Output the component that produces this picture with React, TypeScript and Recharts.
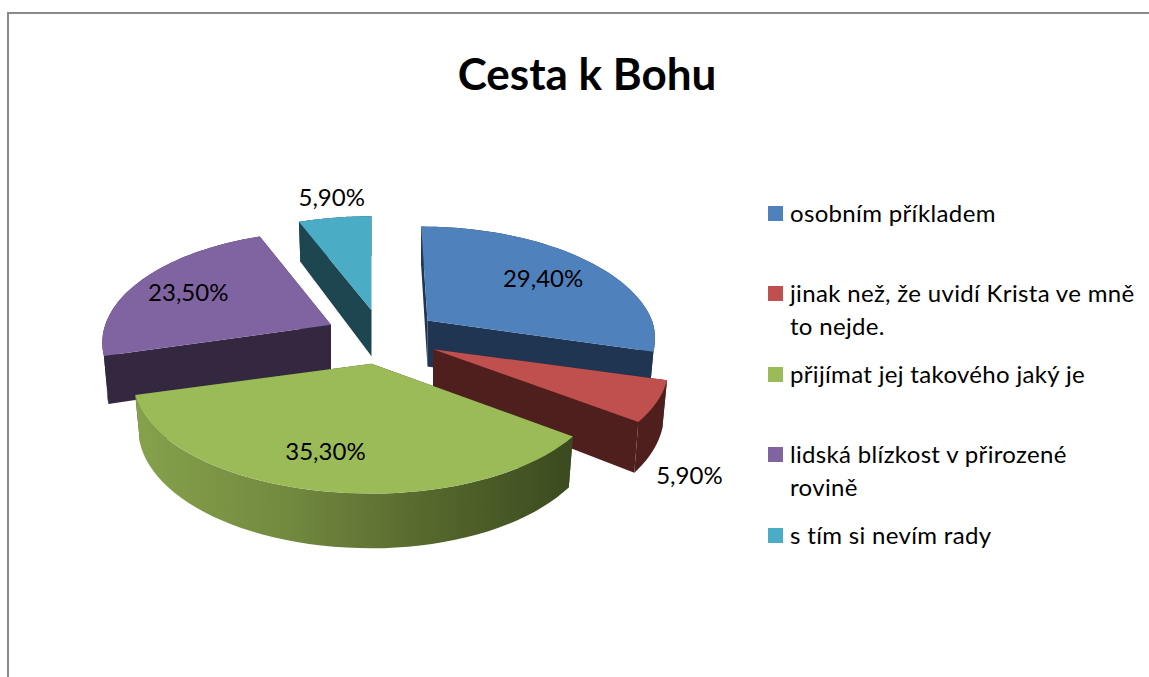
import React from "react";
import { PieChart, Pie, Legend } from "recharts";

const chartTitle = "Cesta k Bohu";
const categories = [
  "osobním příkladem",
  "jinak než, že uvidí Krista ve mně to nejde.",
  "přijímat jej takového jaký je",
  "lidská blízkost v přirozené rovině",
  "s tím si nevím rady",
];
const shares = [29.4, 5.9, 35.3, 23.5, 5.9];
const topColors = ["#4f81bd", "#c0504d", "#9bbb59", "#8064a2", "#4bacc6"];
const wallColors = ["#1f3552", "#4f1f1e", "#3c4a20", "#33283f", "#1e4651"];

const rows = categories.map((name, i) => ({ name, value: shares[i], fill: topColors[i] }));

// Projection constants of the 3D look
const CX = 382;
const CY = 337;
const RX = 228;
const RY = 109;
const PERSPECTIVE = 0.16;
const EXPLODE = 57;
const DEPTH = 46;
const TILT = 0.478;
const BOTTOM_SHRINK = 0.98;
const FRONT_SLICE = 2;
// per slice width correction: [left of apex, right of apex]
const rimScales = [[1, 0.985], [1, 1.02], [1.03, 1], [0.99, 1], [1.01, 1]];
const legendTops = [212, 292, 373, 453, 534];
const legendWrapAfterWords = [99, 7, 99, 4, 99];
const labelNudges = [[1, 0], [103, 90], [-12, 2], [-8, -1], [-13, -46]];
const FONT = "Lato, Carlito, Calibri, sans-serif";

const toPlan = (deg: number) => ((90 - deg) * Math.PI) / 180;

function apexOf(cx: number, cy: number, midDeg: number) {
  const t = toPlan(midDeg);
  return { x: cx + EXPLODE * Math.sin(t), y: cy - EXPLODE * TILT * Math.cos(t), dx: EXPLODE * Math.sin(t) };
}

function rimPoint(apex: { x: number; y: number; dx: number }, deg: number, r: number, index: number, bottom = false) {
  const t = toPlan(deg);
  const u = Math.sin(t);
  const v = Math.cos(t);
  const w = 1 / (1 + PERSPECTIVE * v * r);
  const scale = rimScales[index][u > 0 ? 1 : 0];
  const radial = r * RX * u * w * scale * (bottom ? BOTTOM_SHRINK : 1);
  return {
    x: apex.x + radial + Math.max(apex.dx, 0) * Math.min(w - 1, 0),
    y: apex.y - r * RY * v * w + (bottom ? DEPTH * w : 0),
  };
}

const path = (pts: { x: number; y: number }[]) =>
  "M" + pts.map((p) => `${p.x.toFixed(2)},${p.y.toFixed(2)}`).join("L") + "Z";

function Slice(props: any) {
  const { cx, cy, startAngle, endAngle, index, fill } = props;
  const mid = (startAngle + endAngle) / 2;
  const apex = apexOf(cx, cy, mid);
  const rim: { x: number; y: number }[] = [];
  const rimLow: { x: number; y: number }[] = [];
  const steps = 48;
  for (let s = 0; s <= steps; s++) {
    const a = startAngle + ((endAngle - startAngle) * s) / steps;
    rim.push(rimPoint(apex, a, 1, index));
    rimLow.push(rimPoint(apex, a, 1, index, true));
  }
  const apexLow = { x: apex.x, y: apex.y + DEPTH };
  const wall = wallColors[index];
  const isFront = index === FRONT_SLICE;
  return (
    <g>
      {isFront && (
        <defs>
          <linearGradient id="frontWall" x1="0" y1="0" x2="1" y2="0">
            <stop offset="0" stopColor="#86a24c" />
            <stop offset="0.35" stopColor="#72893f" />
            <stop offset="0.7" stopColor="#53652b" />
            <stop offset="1" stopColor="#3b4a1f" />
          </linearGradient>
        </defs>
      )}
      <path d={path([apex, rim[0], rimLow[0], apexLow])} fill={wall} />
      <path d={path([apex, rim[steps], rimLow[steps], apexLow])} fill={wall} />
      <path d={path([...rim, ...[...rimLow].reverse()])} fill={isFront ? "url(#frontWall)" : wall} />
      <path d={path([apex, ...rim])} fill={fill} />
    </g>
  );
}

const backShape = (p: any) => (p.index === FRONT_SLICE ? <g /> : <Slice {...p} />);
const frontShape = (p: any) => (p.index === FRONT_SLICE ? <Slice {...p} /> : <g />);

function sliceLabel(p: any) {
  const { cx, cy, startAngle, endAngle, index, value } = p;
  const mid = (startAngle + endAngle) / 2;
  const apex = apexOf(cx, cy, mid);
  const at = rimPoint(apex, mid, 0.7, index);
  const [nx, ny] = labelNudges[index];
  return (
    <text
      key={index}
      x={at.x + nx}
      y={at.y + ny}
      textAnchor="middle"
      dominantBaseline="central"
      fontFamily={FONT}
      fontSize={24}
      fill="#000"
    >
      {`${Number(value).toFixed(2).replace(".", ",")}%`}
    </text>
  );
}

function LegendBox({ payload }: any) {
  const entries = categories.map((name) => (payload || []).find((e: any) => e.value === name)).filter(Boolean);
  return (
    <div style={{ position: "relative", width: 1149, height: 1 }}>
      {entries.map((e: any) => {
        const i = categories.indexOf(e.value);
        const words = e.value.split(" ");
        const cut = legendWrapAfterWords[i];
        const lines = [words.slice(0, cut).join(" "), words.slice(cut).join(" ")].filter(Boolean);
        return (
          <div key={e.value} style={{ position: "absolute", left: 768, top: legendTops[i] - 15, width: 372, height: 33 }}>
            <div style={{ position: "absolute", left: 0, top: 9, width: 15, height: 15, background: e.color }} />
            <div
              style={{
                position: "absolute",
                left: 22,
                top: -1,
                width: 360,
                fontFamily: FONT,
                fontSize: 24,
                letterSpacing: 0.33,
                lineHeight: "33px",
                whiteSpace: "nowrap",
                color: "#000",
              }}
            >
              {lines.map((l: string) => (
                <div key={l}>{l}</div>
              ))}
            </div>
          </div>
        );
      })}
    </div>
  );
}

export default function App() {
  return (
    <div style={{ position: "absolute", left: 0, top: 0, width: 1149, height: 677, overflow: "hidden", background: "#fff" }}>
      <div
        style={{
          position: "absolute",
          left: 7,
          top: 12,
          width: 1142,
          height: 665,
          borderTop: "2px solid #8a8a8a",
          borderLeft: "2px solid #8a8a8a",
          boxSizing: "border-box",
        }}
      />
      <div style={{ position: "absolute", left: 0, top: 0 }}>
        <PieChart width={1149} height={677} margin={{ top: 0, right: 0, bottom: 0, left: 0 }}>
          <text x={587} y={73} textAnchor="middle" dominantBaseline="central" fontFamily={FONT} fontWeight={700} fontSize={44} fill="#000">
            {chartTitle}
          </text>
          <Pie
            data={rows}
            dataKey="value"
            nameKey="name"
            cx={CX}
            cy={CY}
            outerRadius={RX}
            startAngle={90}
            endAngle={-270}
            isAnimationActive={false}
            shape={backShape}
            activeShape={backShape}
            inactiveShape={backShape}
            label={false}
            labelLine={false}
            stroke="none"
          />
          <Pie
            data={rows}
            dataKey="value"
            nameKey="name"
            cx={CX}
            cy={CY}
            outerRadius={RX}
            startAngle={90}
            endAngle={-270}
            isAnimationActive={false}
            shape={frontShape}
            activeShape={frontShape}
            inactiveShape={frontShape}
            label={sliceLabel}
            labelLine={false}
            legendType="none"
            stroke="none"
          />
          <Legend
            layout="horizontal"
            verticalAlign="top"
            align="left"
            itemSorter={null}
            content={LegendBox}
            wrapperStyle={{ position: "absolute", left: 0, top: 0, width: 1149, height: 0, margin: 0 }}
          />
        </PieChart>
      </div>
    </div>
  );
}
